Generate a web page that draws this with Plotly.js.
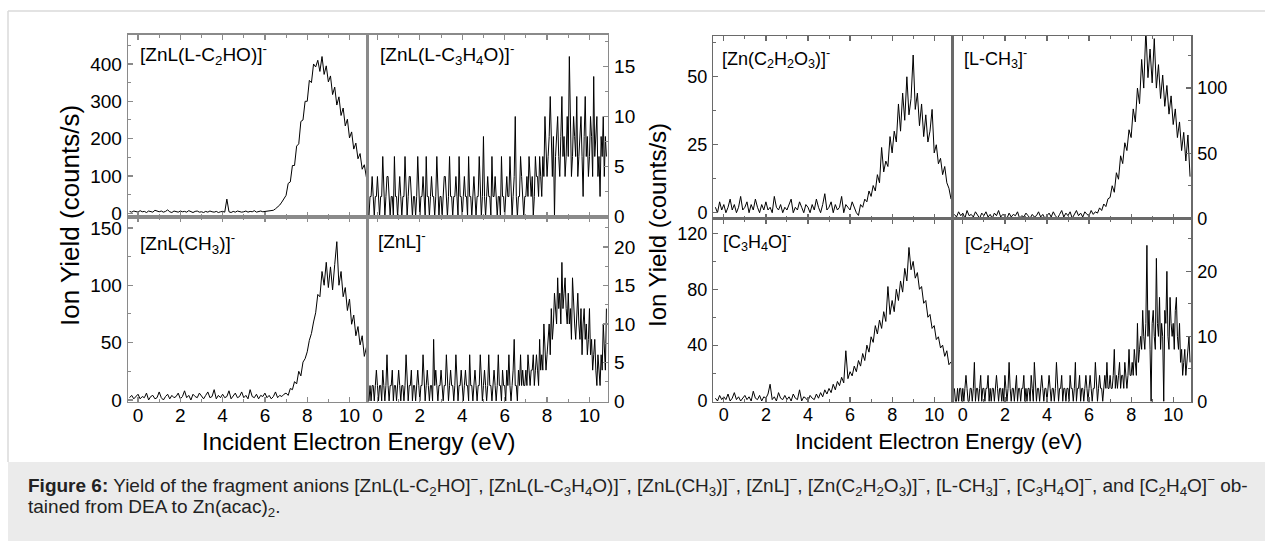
<!DOCTYPE html>
<html><head><meta charset="utf-8">
<script src="https://cdn.plot.ly/plotly-3.0.1.min.js"></script>
<style>html,body{margin:0;padding:0;background:#fff;}#chart{width:1265px;height:541px;}</style>
</head><body><div id="chart"></div>
<script>
// ---- energy grids (eV): first point and spacing ----
const E_START = -0.4;
const E_STEP_FINE = 0.05;   // counting-limited channels
const E_STEP = 0.1;         // other channels

// ---- ion yields (counts/s) ----
// every 0.1 eV from -0.4 to 10.8 eV
const yield_ZnL_LC2HO = [5,3,6,4,
 3,7,4,5,2,6,4,3,8,5,
 4,6,3,5,9,4,2,6,5,3,
 6,4,5,3,7,4,2,5,6,3,
 4,2,5,3,6,4,3,5,2,4,
 5,3,38,4,2,5,3,6,4,3,
 4,6,3,5,4,7,3,5,6,4,
 5,7,6,9,8,12,16,22,30,40,
 48,80,84,128,128,180,186,246,250,300,
 300,356,350,400,392,410,380,420,372,395,
 352,368,318,338,290,312,262,282,234,252,
 202,218,172,188,146,160,118,130,96];
// every 0.05 eV from -0.4 to 10.8 eV
const yield_ZnL_LC3H4O = [0,2,2,4,2,0,2,2,
 4,2,0,2,2,6,2,0,2,4, 4,2,0,2,2,0,6,2,2,0,
 2,4,2,0,2,2,6,2,0,2, 4,4,2,0,2,2,0,2,6,2,
 0,2,2,4,2,0,6,2,2,0, 2,4,2,2,0,2,6,2,0,2,
 2,0,2,4,4,2,0,2,6,2, 2,0,2,2,4,2,0,6,2,2,
 0,2,4,2,2,0,6,2,2,0, 2,4,2,0,2,2,6,2,0,2,
 8,2,0,2,4,2,2,0,6,2, 2,4,2,0,2,2,0,6,2,2,
 0,2,4,2,2,6,2,0,2,4, 10,2,0,2,2,6,4,2,0,2,
 2,4,2,6,4,2,4,0,2,6, 4,4,2,6,4,2,6,4,10,6,
 4,6,8,12,6,4,8,0,6,8, 10,6,4,8,12,6,8,4,6,10,
 6,16,8,4,6,10,8,6,12,4, 6,8,10,6,2,8,12,6,8,4,
 6,10,8,4,14,6,8,10,4,6, 2,8,6,10,4,8,6];
// every 0.1 eV
const yield_ZnL_CH3 = [2,4,1,3,
 5,1,3,2,6,0,3,4,1,2,
 7,2,0,3,5,1,4,2,3,6,
 1,3,8,2,4,0,5,3,2,6,
 3,1,4,7,2,3,9,1,4,2,
 5,2,3,8,1,4,6,2,3,7,
 2,4,1,9,3,2,5,1,4,3,
 6,2,4,1,3,7,2,4,3,5,
 6,4,10,9,16,14,25,21,33,36,
 42,52,58,68,76,92,90,112,100,120,
 98,116,96,118,138,100,112,90,98,78,
 88,66,74,56,64,48,56,38,46];
// every 0.05 eV
const yield_ZnL = [0,2,0,2,2,0,2,4,
 2,0,2,2,0,4,2,0,2,6, 2,0,2,2,4,0,2,2,0,2,
 4,2,0,2,2,0,2,6,2,0, 2,2,4,0,2,2,0,2,4,2,
 0,2,2,6,2,0,2,4,2,0, 2,2,0,8,2,4,2,0,2,2,
 4,2,0,2,2,6,2,0,2,4, 2,2,0,2,6,2,0,2,2,4,
 2,0,2,4,2,2,0,6,2,2, 0,2,4,2,0,2,2,6,2,0,
 2,4,2,0,2,6,2,2,0,2, 4,2,0,2,6,2,2,0,4,2,
 2,0,4,2,6,2,0,2,4,8, 2,2,0,4,2,6,2,4,2,2,
 4,2,6,4,2,4,4,6,2,4, 6,4,2,8,4,6,4,10,6,4,
 6,8,10,6,12,8,10,14,12,10, 16,12,14,10,18,12,14,16,12,10,
 14,10,12,8,16,12,10,8,12,14, 10,8,12,6,10,12,8,10,6,8,
 12,6,8,4,6,8,4,2,6,4, 2,6,4,10,6,4,12];
// every 0.1 eV
const yield_Zn_C2H2O3 = [2,0,4,1,
 3,0,2,5,1,3,0,2,6,1,
 2,4,0,3,1,5,2,0,3,1,
 4,1,2,0,6,2,1,3,0,2,
 1,3,5,0,2,1,4,2,0,3,
 2,0,3,1,5,2,0,3,7,1,
 2,4,0,3,1,2,6,0,3,2,
 1,4,2,0,-1,3,2,5,4,8,
 6,10,8,14,11,24,15,19,17,28,
 22,30,26,40,30,44,34,50,36,42,
 58,38,44,32,40,28,36,26,30,38,
 22,25,18,20,14,17,11,9,5];
const yield_L_CH3 = [3,1,5,2,
 4,0,6,2,3,1,5,2,0,4,
 2,5,1,3,0,4,2,6,1,3,
 2,0,4,1,3,2,5,0,2,1,
 4,2,0,3,1,2,5,1,3,0,
 2,4,1,5,2,0,3,6,1,4,
 2,5,0,3,6,2,4,1,5,3,
 2,6,3,5,4,8,6,11,9,15,
 16,25,20,35,30,48,42,58,52,68,
 62,84,74,100,88,122,100,145,108,130,
 104,138,100,118,92,110,86,102,80,94,
 72,84,62,74,52,66,44,64,32];
const yield_C3H4O = [2,0,4,1,
 3,1,5,0,2,6,1,3,0,2,
 4,1,3,0,7,2,1,4,0,3,
 2,5,12,1,3,0,6,2,1,4,
 1,3,0,5,2,1,8,0,3,2,
 0,4,2,1,5,2,6,3,8,5,
 9,6,12,8,14,11,17,13,36,16,
 21,18,25,21,29,25,34,29,40,35,
 46,42,54,48,58,52,64,57,82,62,
 72,64,80,72,86,78,95,86,110,94,
 100,88,92,80,82,70,72,60,62,52,
 54,44,46,38,40,32,36,26,28];
// every 0.05 eV
const yield_C2H4O = [2,0,0,2,0,2,2,0,
 2,0,2,4,2,0,0,2,2,0, 2,6,0,2,2,0,2,4,0,2,
 2,0,2,2,4,0,2,0,2,2, 0,2,4,2,0,2,2,0,2,0,
 4,2,0,2,6,2,0,2,2,0, 2,4,0,2,2,0,2,2,4,0,
 2,0,2,2,0,4,2,0,6,2, 0,2,2,0,2,4,2,0,2,2,
 0,2,4,2,0,2,2,0,2,6, 2,0,2,2,4,0,2,2,0,2,
 2,0,4,2,2,0,2,6,0,2, 2,4,0,2,2,0,2,4,2,0,
 2,4,2,0,2,2,6,2,0,2, 4,2,2,0,2,4,2,6,2,2,
 4,2,2,4,8,2,4,2,4,6, 2,4,4,2,6,4,2,4,8,4,
 4,6,4,8,6,4,12,6,8,10, 8,14,10,8,12,24,10,14,8,0,
 12,14,10,8,22,12,10,16,8,12, 10,0,14,12,20,10,8,16,12,10,
 12,8,14,16,10,8,12,6,8,4, 6,8,4,6,8,10,6];

// ---- texts ----
const panelLabels = [
 '[ZnL(L-C<sub>2</sub>HO)]<sup>-</sup>',
 '[ZnL(L-C<sub>3</sub>H<sub>4</sub>O)]<sup>-</sup>',
 '[ZnL(CH<sub>3</sub>)]<sup>-</sup>',
 '[ZnL]<sup>-</sup>',
 '[Zn(C<sub>2</sub>H<sub>2</sub>O<sub>3</sub>)]<sup>-</sup>',
 '[L-CH<sub>3</sub>]<sup>-</sup>',
 '[C<sub>3</sub>H<sub>4</sub>O]<sup>-</sup>',
 '[C<sub>2</sub>H<sub>4</sub>O]<sup>-</sup>'
];
const xTitle = 'Incident Electron Energy (eV)';
const yTitle = 'Ion Yield (counts/s)';
const captionLine1 = '<b>Figure 6:</b> Yield of the fragment anions [ZnL(L-C<sub>2</sub>HO]<sup>−</sup>, [ZnL(L-C<sub>3</sub>H<sub>4</sub>O)]<sup>−</sup>, [ZnL(CH<sub>3</sub>)]<sup>−</sup>, [ZnL]<sup>−</sup>, [Zn(C<sub>2</sub>H<sub>2</sub>O<sub>3</sub>)]<sup>−</sup>, [L-CH<sub>3</sub>]<sup>−</sup>, [C<sub>3</sub>H<sub>4</sub>O]<sup>−</sup>, and [C<sub>2</sub>H<sub>4</sub>O]<sup>−</sup> ob-';
const captionLine2 = 'tained from DEA to Zn(acac)<sub>2</sub>.';

// ---- layout helpers (pixel geometry) ----
const W = 1265, H = 541;
const px = x => x / W;
const py = y => 1 - y / H;

const FIG = {
  L: {line:'#8a8a8a', lw:1.6, tick:19, lab:19, xr:[-0.46,10.86]},
  R: {line:'#6a6a6a', lw:1.3, tick:18, lab:18, xr:[-0.5,10.86]}
};

const panels = [
 {y:yield_ZnL_LC2HO,  dx:E_STEP,      fig:'L', xd:[128.3,367.7], yd:[34.5,217],   yr:[-10,479],   dt:100, mn:50,  side:'left',  bottom:false, lx:138, ly:39},
 {y:yield_ZnL_LC3H4O, dx:E_STEP_FINE, fig:'L', xd:[367.7,607.7], yd:[34.5,217],   yr:[-0.05,18.2],dt:5,   mn:2.5, side:'right', bottom:false, lx:378, ly:39},
 {y:yield_ZnL_CH3,    dx:E_STEP,      fig:'L', xd:[128.3,367.7], yd:[217,401.7],  yr:[-1.5,159.5],dt:50,  mn:25,  side:'left',  bottom:true,  lx:138, ly:228},
 {y:yield_ZnL,        dx:E_STEP_FINE, fig:'L', xd:[367.7,607.7], yd:[217,401.7],  yr:[-0.1,23.9], dt:5,   mn:2.5, side:'right', bottom:true,  lx:376, ly:226},
 {y:yield_Zn_C2H2O3,  dx:E_STEP,      fig:'R', xd:[713.3,952.3], yd:[36,218.7],   yr:[-2.2,65],   dt:25,  mn:12.5,side:'left',  bottom:false, lx:720, ly:44},
 {y:yield_L_CH3,      dx:E_STEP,      fig:'R', xd:[952.3,1191.3],yd:[36,218.7],   yr:[-0.3,140],  dt:50,  mn:25,  side:'right', bottom:false, lx:962, ly:44},
 {y:yield_C3H4O,      dx:E_STEP,      fig:'R', xd:[713.3,952.3], yd:[218.7,401.7],yr:[-0.5,130.6],dt:40,  mn:20,  side:'left',  bottom:true,  lx:721, ly:227},
 {y:yield_C2H4O,      dx:E_STEP_FINE, fig:'R', xd:[952.3,1191.3],yd:[218.7,401.7],yr:[-0.05,28.1],dt:10,  mn:5,   side:'right', bottom:true,  lx:963, ly:229}
];

const traces = [];
const layout = {
  width:W, height:H, margin:{l:0,r:0,t:0,b:0},
  paper_bgcolor:'#fff', plot_bgcolor:'rgba(0,0,0,0)', showlegend:false,
  font:{family:'Liberation Sans, Arial, sans-serif', color:'#000'},
  shapes:[
    {type:'rect', xref:'paper', yref:'paper', x0:px(8), x1:1, y0:0, y1:py(462), fillcolor:'#ebebeb', line:{width:0}, layer:'below'},
    {type:'line', xref:'paper', yref:'paper', x0:px(8), x1:1, y0:py(11), y1:py(11), line:{color:'#dadada', width:1.5}},
    {type:'line', xref:'paper', yref:'paper', x0:px(8), x1:px(8), y0:py(11), y1:py(462), line:{color:'#dadada', width:1.5}}
  ],
  annotations:[]
};

panels.forEach((p, i) => {
  const n = i === 0 ? '' : String(i + 1);
  const f = FIG[p.fig];
  traces.push({type:'scatter', mode:'lines', x0:E_START, dx:p.dx, y:p.y,
    xaxis:'x'+n, yaxis:'y'+n, line:{color:'#000', width:1}, hoverinfo:'skip'});
  layout['xaxis'+n] = {
    domain:[px(p.xd[0]), px(p.xd[1])], range:f.xr, anchor:'y'+n,
    showline:true, linecolor:f.line, linewidth:f.lw, mirror:'ticks',
    ticks:'inside', ticklen:5, tickwidth:1.2, tickcolor:f.line,
    tick0:0, dtick:2, showticklabels:p.bottom, ticklabelstandoff:-4,
    tickfont:{size:f.tick, color:'#000'}, showgrid:false, zeroline:false,
    minor:{ticks:'inside', dtick:1, ticklen:3, tickwidth:1, tickcolor:f.line, showgrid:false}
  };
  layout['yaxis'+n] = {
    domain:[py(p.yd[1]), py(p.yd[0])], range:p.yr, anchor:'x'+n, side:p.side,
    showline:true, linecolor:f.line, linewidth:f.lw, mirror:true,
    ticks:'inside', ticklen:5, tickwidth:1.2, tickcolor:f.line,
    tick0:0, dtick:p.dt, ticklabelstandoff:1,
    tickfont:{size:f.tick, color:'#000'}, showgrid:false, zeroline:false,
    minor:{ticks:'inside', dtick:p.mn, ticklen:3, tickwidth:1, tickcolor:f.line, showgrid:false}
  };
  layout.annotations.push({xref:'paper', yref:'paper', x:px(p.lx), y:py(p.ly),
    xanchor:'left', yanchor:'top', showarrow:false, text:panelLabels[i],
    font:{size:f.lab, color:'#000'}});
});

layout.annotations.push(
  {xref:'paper', yref:'paper', x:px(358.7), y:py(441.7), xanchor:'center', yanchor:'middle', showarrow:false, text:xTitle, font:{size:24}},
  {xref:'paper', yref:'paper', x:px(938), y:py(441.7), xanchor:'center', yanchor:'middle', showarrow:false, text:xTitle, font:{size:22}},
  {xref:'paper', yref:'paper', x:px(70), y:py(216), xanchor:'center', yanchor:'middle', showarrow:false, textangle:-90, text:yTitle, font:{size:26}},
  {xref:'paper', yref:'paper', x:px(658), y:py(225), xanchor:'center', yanchor:'middle', showarrow:false, textangle:-90, text:yTitle, font:{size:24}},
  {xref:'paper', yref:'paper', x:px(26), y:py(485), xanchor:'left', yanchor:'middle', showarrow:false, align:'left', text:captionLine1, font:{size:19, color:'#222'}},
  {xref:'paper', yref:'paper', x:px(26), y:py(508), xanchor:'left', yanchor:'middle', showarrow:false, align:'left', text:captionLine2, font:{size:19, color:'#222'}}
);

Plotly.newPlot('chart', traces, layout, {staticPlot:true, displayModeBar:false});
</script>
</body></html>
